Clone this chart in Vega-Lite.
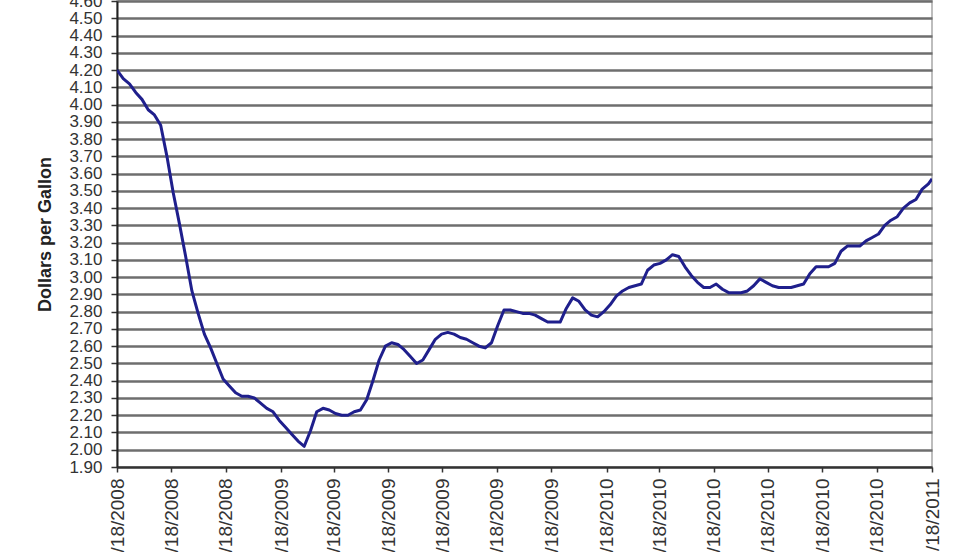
{
  "$schema": "https://vega.github.io/schema/vega-lite/v6.json",
  "width": 815,
  "height": 466,
  "autosize": {"type": "none"},
  "padding": {"left": 117, "top": 1, "right": 48, "bottom": 85},
  "background": "white",
  "config": {
    "font": "Liberation Sans",
    "view": {"stroke": "#a8a8a8", "strokeWidth": 1.5}
  },
  "data": {
    "format": {"parse": {"d": "date:'%Y-%m-%d'"}},
    "values": [
      {"d": "2008-08-18", "v": 4.20}, {"d": "2008-08-25", "v": 4.15}, {"d": "2008-09-01", "v": 4.12}, {"d": "2008-09-08", "v": 4.07},
      {"d": "2008-09-15", "v": 4.03}, {"d": "2008-09-22", "v": 3.97}, {"d": "2008-09-29", "v": 3.94}, {"d": "2008-10-06", "v": 3.88},
      {"d": "2008-10-13", "v": 3.70}, {"d": "2008-10-20", "v": 3.49}, {"d": "2008-10-27", "v": 3.31}, {"d": "2008-11-03", "v": 3.12},
      {"d": "2008-11-10", "v": 2.92}, {"d": "2008-11-17", "v": 2.79}, {"d": "2008-11-24", "v": 2.67}, {"d": "2008-12-01", "v": 2.59},
      {"d": "2008-12-08", "v": 2.50}, {"d": "2008-12-15", "v": 2.41}, {"d": "2008-12-22", "v": 2.37}, {"d": "2008-12-29", "v": 2.33},
      {"d": "2009-01-05", "v": 2.31}, {"d": "2009-01-12", "v": 2.31}, {"d": "2009-01-19", "v": 2.30}, {"d": "2009-01-26", "v": 2.27},
      {"d": "2009-02-02", "v": 2.24}, {"d": "2009-02-09", "v": 2.22}, {"d": "2009-02-16", "v": 2.17}, {"d": "2009-02-23", "v": 2.13},
      {"d": "2009-03-02", "v": 2.09}, {"d": "2009-03-09", "v": 2.05}, {"d": "2009-03-16", "v": 2.02}, {"d": "2009-03-23", "v": 2.11},
      {"d": "2009-03-30", "v": 2.22}, {"d": "2009-04-06", "v": 2.24}, {"d": "2009-04-13", "v": 2.23}, {"d": "2009-04-20", "v": 2.21},
      {"d": "2009-04-27", "v": 2.20}, {"d": "2009-05-04", "v": 2.20}, {"d": "2009-05-11", "v": 2.22}, {"d": "2009-05-18", "v": 2.23},
      {"d": "2009-05-25", "v": 2.29}, {"d": "2009-06-01", "v": 2.40}, {"d": "2009-06-08", "v": 2.52}, {"d": "2009-06-15", "v": 2.60},
      {"d": "2009-06-22", "v": 2.62}, {"d": "2009-06-29", "v": 2.61}, {"d": "2009-07-06", "v": 2.58}, {"d": "2009-07-13", "v": 2.54},
      {"d": "2009-07-20", "v": 2.50}, {"d": "2009-07-27", "v": 2.52}, {"d": "2009-08-03", "v": 2.58}, {"d": "2009-08-10", "v": 2.64},
      {"d": "2009-08-17", "v": 2.67}, {"d": "2009-08-24", "v": 2.68}, {"d": "2009-08-31", "v": 2.67}, {"d": "2009-09-07", "v": 2.65},
      {"d": "2009-09-14", "v": 2.64}, {"d": "2009-09-21", "v": 2.62}, {"d": "2009-09-28", "v": 2.60}, {"d": "2009-10-05", "v": 2.59},
      {"d": "2009-10-12", "v": 2.62}, {"d": "2009-10-19", "v": 2.72}, {"d": "2009-10-26", "v": 2.81}, {"d": "2009-11-02", "v": 2.81},
      {"d": "2009-11-09", "v": 2.80}, {"d": "2009-11-16", "v": 2.79}, {"d": "2009-11-23", "v": 2.79}, {"d": "2009-11-30", "v": 2.78},
      {"d": "2009-12-07", "v": 2.76}, {"d": "2009-12-14", "v": 2.74}, {"d": "2009-12-21", "v": 2.74}, {"d": "2009-12-28", "v": 2.74},
      {"d": "2010-01-04", "v": 2.82}, {"d": "2010-01-11", "v": 2.88}, {"d": "2010-01-18", "v": 2.86}, {"d": "2010-01-25", "v": 2.81},
      {"d": "2010-02-01", "v": 2.78}, {"d": "2010-02-08", "v": 2.77}, {"d": "2010-02-15", "v": 2.80}, {"d": "2010-02-22", "v": 2.84},
      {"d": "2010-03-01", "v": 2.89}, {"d": "2010-03-08", "v": 2.92}, {"d": "2010-03-15", "v": 2.94}, {"d": "2010-03-22", "v": 2.95},
      {"d": "2010-03-29", "v": 2.96}, {"d": "2010-04-05", "v": 3.04}, {"d": "2010-04-12", "v": 3.07}, {"d": "2010-04-19", "v": 3.08},
      {"d": "2010-04-26", "v": 3.10}, {"d": "2010-05-03", "v": 3.13}, {"d": "2010-05-10", "v": 3.12}, {"d": "2010-05-17", "v": 3.06},
      {"d": "2010-05-24", "v": 3.01}, {"d": "2010-05-31", "v": 2.97}, {"d": "2010-06-07", "v": 2.94}, {"d": "2010-06-14", "v": 2.94},
      {"d": "2010-06-21", "v": 2.96}, {"d": "2010-06-28", "v": 2.93}, {"d": "2010-07-05", "v": 2.91}, {"d": "2010-07-12", "v": 2.91},
      {"d": "2010-07-19", "v": 2.91}, {"d": "2010-07-26", "v": 2.92}, {"d": "2010-08-02", "v": 2.95}, {"d": "2010-08-09", "v": 2.99},
      {"d": "2010-08-16", "v": 2.97}, {"d": "2010-08-23", "v": 2.95}, {"d": "2010-08-30", "v": 2.94}, {"d": "2010-09-06", "v": 2.94},
      {"d": "2010-09-13", "v": 2.94}, {"d": "2010-09-20", "v": 2.95}, {"d": "2010-09-27", "v": 2.96}, {"d": "2010-10-04", "v": 3.02},
      {"d": "2010-10-11", "v": 3.06}, {"d": "2010-10-18", "v": 3.06}, {"d": "2010-10-25", "v": 3.06}, {"d": "2010-11-01", "v": 3.08},
      {"d": "2010-11-08", "v": 3.15}, {"d": "2010-11-15", "v": 3.18}, {"d": "2010-11-22", "v": 3.18}, {"d": "2010-11-29", "v": 3.18},
      {"d": "2010-12-06", "v": 3.21}, {"d": "2010-12-13", "v": 3.23}, {"d": "2010-12-20", "v": 3.25}, {"d": "2010-12-27", "v": 3.30},
      {"d": "2011-01-03", "v": 3.33}, {"d": "2011-01-10", "v": 3.35}, {"d": "2011-01-17", "v": 3.40}, {"d": "2011-01-24", "v": 3.43},
      {"d": "2011-01-31", "v": 3.45}, {"d": "2011-02-07", "v": 3.51}, {"d": "2011-02-14", "v": 3.54}, {"d": "2011-02-18", "v": 3.57}
    ]
  },
  "mark": {"type": "line", "color": "#1f1f8c", "strokeWidth": 3, "strokeJoin": "round", "clip": true},
  "encoding": {
    "x": {
      "field": "d",
      "type": "temporal",
      "scale": {"domain": [{"year": 2008, "month": 8, "date": 18}, {"year": 2011, "month": 2, "date": 18}]},
      "axis": {
        "title": null,
        "values": [
          {"year": 2008, "month": 8, "date": 18}, {"year": 2008, "month": 10, "date": 18}, {"year": 2008, "month": 12, "date": 18},
          {"year": 2009, "month": 2, "date": 18}, {"year": 2009, "month": 4, "date": 18}, {"year": 2009, "month": 6, "date": 18},
          {"year": 2009, "month": 8, "date": 18}, {"year": 2009, "month": 10, "date": 18}, {"year": 2009, "month": 12, "date": 18},
          {"year": 2010, "month": 2, "date": 18}, {"year": 2010, "month": 4, "date": 18}, {"year": 2010, "month": 6, "date": 18},
          {"year": 2010, "month": 8, "date": 18}, {"year": 2010, "month": 10, "date": 18}, {"year": 2010, "month": 12, "date": 18},
          {"year": 2011, "month": 2, "date": 18}
        ],
        "format": "%-m/%d/%Y",
        "labelAngle": -90,
        "labelFontSize": 19,
        "labelColor": "#333333",
        "labelPadding": 6,
        "labelOverlap": false,
        "labelFlush": false,
        "grid": false,
        "domainColor": "#333333",
        "domainWidth": 2,
        "tickColor": "#333333",
        "tickWidth": 1.5,
        "tickSize": 5
      }
    },
    "y": {
      "field": "v",
      "type": "quantitative",
      "scale": {"domain": [1.9, 4.6], "nice": false, "zero": false},
      "axis": {
        "title": "Dollars per Gallon",
        "titleFontSize": 18,
        "titleFontWeight": "bold",
        "titleColor": "#222222",
        "titleAngle": -90,
        "titleX": -72,
        "titleY": 233,
        "titleAlign": "center",
        "titleBaseline": "middle",
        "values": [1.9, 2.0, 2.1, 2.2, 2.3, 2.4, 2.5, 2.6, 2.7, 2.8, 2.9, 3.0, 3.1, 3.2, 3.3, 3.4, 3.5, 3.6, 3.7, 3.8, 3.9, 4.0, 4.1, 4.2, 4.3, 4.4, 4.5, 4.6],
        "format": ".2f",
        "labelFontSize": 17,
        "labelColor": "#333333",
        "labelPadding": 9,
        "labelOverlap": false,
        "labelFlush": false,
        "grid": true,
        "gridColor": "#6e6e6e",
        "gridWidth": 2.5,
        "domainColor": "#222222",
        "domainWidth": 2,
        "tickColor": "#333333",
        "tickWidth": 1.5,
        "tickSize": 6
      }
    }
  }
}
